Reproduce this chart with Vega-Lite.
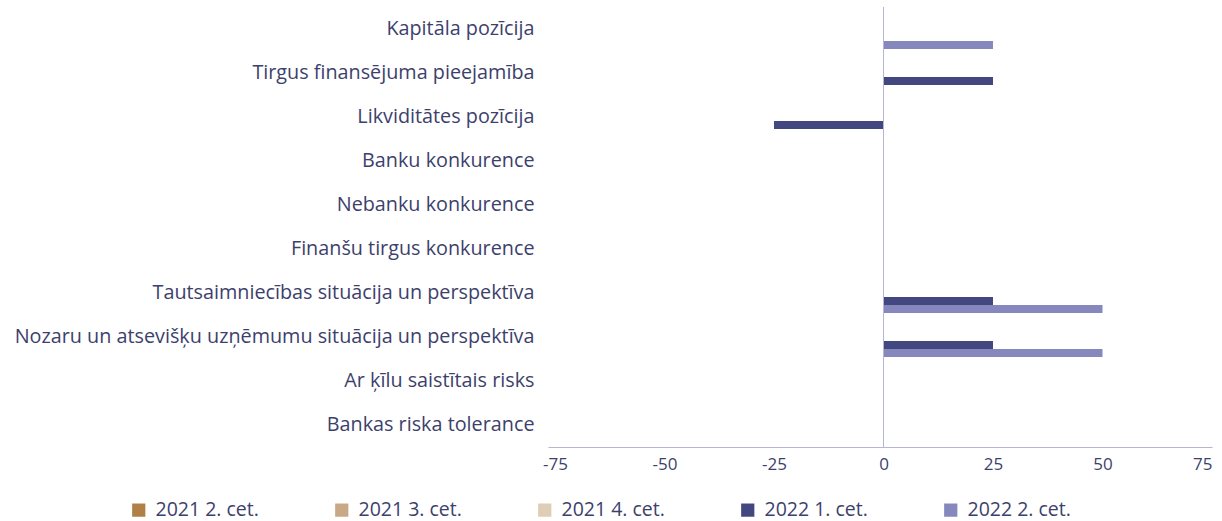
{
  "$schema": "https://vega.github.io/schema/vega-lite/v6.json",
  "width": 664,
  "height": 440,
  "autosize": {"type": "none"},
  "padding": {"left": 548, "top": 7, "right": 10, "bottom": 74},
  "background": "white",
  "config": {
    "font": "Open Sans",
    "view": {"stroke": null},
    "axis": {"labelColor": "#3d3f6c", "grid": false, "ticks": false}
  },
  "data": {
    "values": [
      {"cat": "Kapitāla pozīcija", "s": "2021 2. cet.", "v": 0},
      {"cat": "Kapitāla pozīcija", "s": "2021 3. cet.", "v": 0},
      {"cat": "Kapitāla pozīcija", "s": "2021 4. cet.", "v": 0},
      {"cat": "Kapitāla pozīcija", "s": "2022 1. cet.", "v": 0},
      {"cat": "Kapitāla pozīcija", "s": "2022 2. cet.", "v": 25},
      {"cat": "Tirgus finansējuma pieejamība", "s": "2021 2. cet.", "v": 0},
      {"cat": "Tirgus finansējuma pieejamība", "s": "2021 3. cet.", "v": 0},
      {"cat": "Tirgus finansējuma pieejamība", "s": "2021 4. cet.", "v": 0},
      {"cat": "Tirgus finansējuma pieejamība", "s": "2022 1. cet.", "v": 25},
      {"cat": "Tirgus finansējuma pieejamība", "s": "2022 2. cet.", "v": 0},
      {"cat": "Likviditātes pozīcija", "s": "2021 2. cet.", "v": 0},
      {"cat": "Likviditātes pozīcija", "s": "2021 3. cet.", "v": 0},
      {"cat": "Likviditātes pozīcija", "s": "2021 4. cet.", "v": 0},
      {"cat": "Likviditātes pozīcija", "s": "2022 1. cet.", "v": -25},
      {"cat": "Likviditātes pozīcija", "s": "2022 2. cet.", "v": 0},
      {"cat": "Banku konkurence", "s": "2021 2. cet.", "v": 0},
      {"cat": "Banku konkurence", "s": "2021 3. cet.", "v": 0},
      {"cat": "Banku konkurence", "s": "2021 4. cet.", "v": 0},
      {"cat": "Banku konkurence", "s": "2022 1. cet.", "v": 0},
      {"cat": "Banku konkurence", "s": "2022 2. cet.", "v": 0},
      {"cat": "Nebanku konkurence", "s": "2021 2. cet.", "v": 0},
      {"cat": "Nebanku konkurence", "s": "2021 3. cet.", "v": 0},
      {"cat": "Nebanku konkurence", "s": "2021 4. cet.", "v": 0},
      {"cat": "Nebanku konkurence", "s": "2022 1. cet.", "v": 0},
      {"cat": "Nebanku konkurence", "s": "2022 2. cet.", "v": 0},
      {"cat": "Finanšu tirgus konkurence", "s": "2021 2. cet.", "v": 0},
      {"cat": "Finanšu tirgus konkurence", "s": "2021 3. cet.", "v": 0},
      {"cat": "Finanšu tirgus konkurence", "s": "2021 4. cet.", "v": 0},
      {"cat": "Finanšu tirgus konkurence", "s": "2022 1. cet.", "v": 0},
      {"cat": "Finanšu tirgus konkurence", "s": "2022 2. cet.", "v": 0},
      {"cat": "Tautsaimniecības situācija un perspektīva", "s": "2021 2. cet.", "v": 0},
      {"cat": "Tautsaimniecības situācija un perspektīva", "s": "2021 3. cet.", "v": 0},
      {"cat": "Tautsaimniecības situācija un perspektīva", "s": "2021 4. cet.", "v": 0},
      {"cat": "Tautsaimniecības situācija un perspektīva", "s": "2022 1. cet.", "v": 25},
      {"cat": "Tautsaimniecības situācija un perspektīva", "s": "2022 2. cet.", "v": 50},
      {"cat": "Nozaru un atsevišķu uzņēmumu situācija un perspektīva", "s": "2021 2. cet.", "v": 0},
      {"cat": "Nozaru un atsevišķu uzņēmumu situācija un perspektīva", "s": "2021 3. cet.", "v": 0},
      {"cat": "Nozaru un atsevišķu uzņēmumu situācija un perspektīva", "s": "2021 4. cet.", "v": 0},
      {"cat": "Nozaru un atsevišķu uzņēmumu situācija un perspektīva", "s": "2022 1. cet.", "v": 25},
      {"cat": "Nozaru un atsevišķu uzņēmumu situācija un perspektīva", "s": "2022 2. cet.", "v": 50},
      {"cat": "Ar ķīlu saistītais risks", "s": "2021 2. cet.", "v": 0},
      {"cat": "Ar ķīlu saistītais risks", "s": "2021 3. cet.", "v": 0},
      {"cat": "Ar ķīlu saistītais risks", "s": "2021 4. cet.", "v": 0},
      {"cat": "Ar ķīlu saistītais risks", "s": "2022 1. cet.", "v": 0},
      {"cat": "Ar ķīlu saistītais risks", "s": "2022 2. cet.", "v": 0},
      {"cat": "Bankas riska tolerance", "s": "2021 2. cet.", "v": 0},
      {"cat": "Bankas riska tolerance", "s": "2021 3. cet.", "v": 0},
      {"cat": "Bankas riska tolerance", "s": "2021 4. cet.", "v": 0},
      {"cat": "Bankas riska tolerance", "s": "2022 1. cet.", "v": 0},
      {"cat": "Bankas riska tolerance", "s": "2022 2. cet.", "v": 0}
    ]
  },
  "layer": [
    {
      "mark": {"type": "bar"},
      "encoding": {
        "y": {
          "field": "cat", "type": "nominal", "sort": null, "title": null,
          "scale": {"paddingInner": 0.09, "paddingOuter": 0.045},
          "axis": {"domain": false, "labelFontSize": 19.8, "labelPadding": 14, "labelLimit": 600}
        },
        "yOffset": {
          "field": "s", "type": "nominal", "sort": null,
          "scale": {"paddingInner": 0, "paddingOuter": 0}
        },
        "x": {
          "field": "v", "type": "quantitative", "title": null,
          "scale": {"domain": [-76.6, 75], "nice": false, "zero": false},
          "axis": {"values": [-75, -50, -25, 0, 25, 50, 75], "labelExpr": "datum.value + ''", "domainColor": "#b4b6d4", "domainWidth": 1.2, "labelFontSize": 17, "labelPadding": 9}
        },
        "color": {
          "field": "s", "type": "nominal", "sort": null, "title": null,
          "scale": {
            "domain": ["2021 2. cet.", "2021 3. cet.", "2021 4. cet.", "2022 1. cet.", "2022 2. cet."],
            "range": ["#b08047", "#c9a886", "#e0cdb5", "#43477f", "#8587bd"]
          },
          "legend": {
            "orient": "none", "legendX": -419, "legendY": 493,
            "direction": "horizontal", "columns": 5, "columnPadding": 73,
            "symbolType": "square", "symbolSize": 175, "symbolStrokeWidth": 0,
            "labelFontSize": 19.5, "labelColor": "#3d3f6c", "labelOffset": 7, "labelLimit": 300
          }
        }
      }
    },
    {
      "mark": {"type": "rule", "color": "#b4b6d4", "strokeWidth": 1},
      "encoding": {"x": {"datum": 0, "type": "quantitative"}}
    }
  ]
}
